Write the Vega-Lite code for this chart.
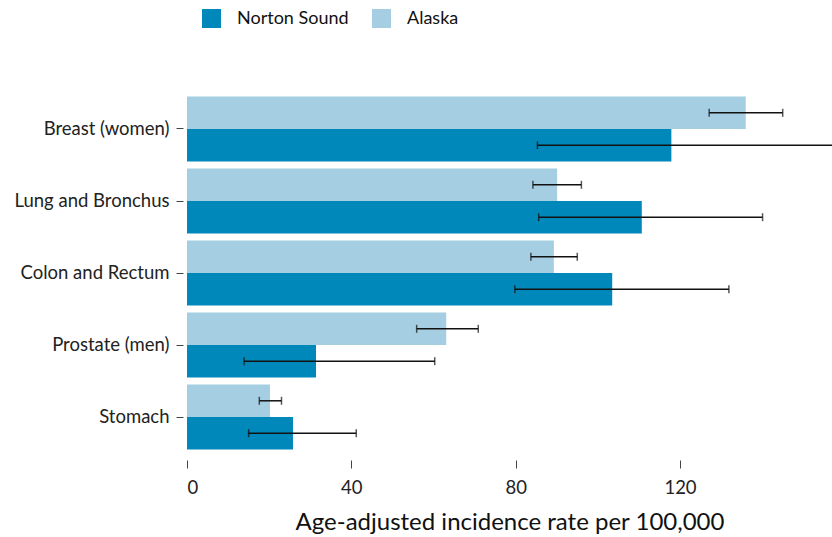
{
  "$schema": "https://vega.github.io/schema/vega-lite/v6.json",
  "width": 645,
  "height": 360,
  "autosize": {"type": "none"},
  "padding": {"left": 187, "top": 93, "right": 0, "bottom": 84},
  "background": "white",
  "config": {
    "view": {"stroke": null},
    "font": "Lato"
  },
  "data": {
    "values": [
      {"site": "Breast (women)", "region": "Alaska", "rate": 136.0, "lo": 127.1, "hi": 145.0},
      {"site": "Breast (women)", "region": "Norton Sound", "rate": 117.9, "lo": 85.3, "hi": 170},
      {"site": "Lung and Bronchus", "region": "Alaska", "rate": 90.1, "lo": 84.2, "hi": 96.0},
      {"site": "Lung and Bronchus", "region": "Norton Sound", "rate": 110.7, "lo": 85.6, "hi": 140.1},
      {"site": "Colon and Rectum", "region": "Alaska", "rate": 89.3, "lo": 83.7, "hi": 95.0},
      {"site": "Colon and Rectum", "region": "Norton Sound", "rate": 103.5, "lo": 79.8, "hi": 131.9},
      {"site": "Prostate (men)", "region": "Alaska", "rate": 63.1, "lo": 55.9, "hi": 70.9},
      {"site": "Prostate (men)", "region": "Norton Sound", "rate": 31.4, "lo": 13.9, "hi": 60.3},
      {"site": "Stomach", "region": "Alaska", "rate": 20.2, "lo": 17.6, "hi": 23.0},
      {"site": "Stomach", "region": "Norton Sound", "rate": 25.8, "lo": 15.0, "hi": 41.2}
    ]
  },
  "encoding": {
    "y": {
      "field": "site",
      "type": "nominal",
      "sort": ["Breast (women)", "Lung and Bronchus", "Colon and Rectum", "Prostate (men)", "Stomach"],
      "scale": {"paddingInner": 0.1, "paddingOuter": 0.05},
      "axis": {
        "title": null,
        "domain": false,
        "offset": 4,
        "ticks": true,
        "tickSize": 7,
        "tickColor": "#444",
        "labelFontSize": 18.5,
        "labelColor": "#222",
        "labelPadding": 7
      }
    },
    "yOffset": {
      "field": "region",
      "type": "nominal",
      "sort": ["Alaska", "Norton Sound"],
      "scale": {"paddingInner": 0, "paddingOuter": 0}
    }
  },
  "layer": [
    {
      "mark": {"type": "bar"},
      "encoding": {
        "x": {
          "field": "rate",
          "type": "quantitative",
          "scale": {"domain": [0, 157], "nice": false},
          "axis": {
            "values": [0, 40, 80, 120],
            "domain": false,
            "grid": false,
            "offset": 7,
            "tickSize": 8,
            "tickColor": "#444",
            "labelFontSize": 18.5,
            "labelColor": "#222",
            "labelPadding": 10,
            "title": "Age-adjusted incidence rate per 100,000",
            "titleFontSize": 24,
            "titleFontWeight": "normal",
            "titleColor": "#111",
            "titlePadding": 14
          }
        },
        "color": {
          "field": "region",
          "type": "nominal",
          "scale": {"domain": ["Norton Sound", "Alaska"], "range": ["#0088bb", "#a6cee2"]},
          "legend": {
            "title": null,
            "orient": "none",
            "direction": "horizontal",
            "legendX": 6,
            "legendY": -93,
            "symbolType": "square",
            "symbolSize": 360,
            "labelFontSize": 18,
            "labelColor": "#111",
            "labelOffset": 15,
            "columnPadding": 22,
            "padding": 8
          }
        }
      }
    },
    {
      "mark": {"type": "rule", "color": "#111", "strokeWidth": 1.5, "clip": true},
      "encoding": {
        "x": {"field": "lo", "type": "quantitative"},
        "x2": {"field": "hi"}
      }
    },
    {
      "mark": {"type": "tick", "color": "#111", "thickness": 1.5, "size": 8, "clip": true},
      "encoding": {"x": {"field": "lo", "type": "quantitative"}}
    },
    {
      "mark": {"type": "tick", "color": "#111", "thickness": 1.5, "size": 8, "clip": true},
      "encoding": {"x": {"field": "hi", "type": "quantitative"}}
    }
  ]
}
